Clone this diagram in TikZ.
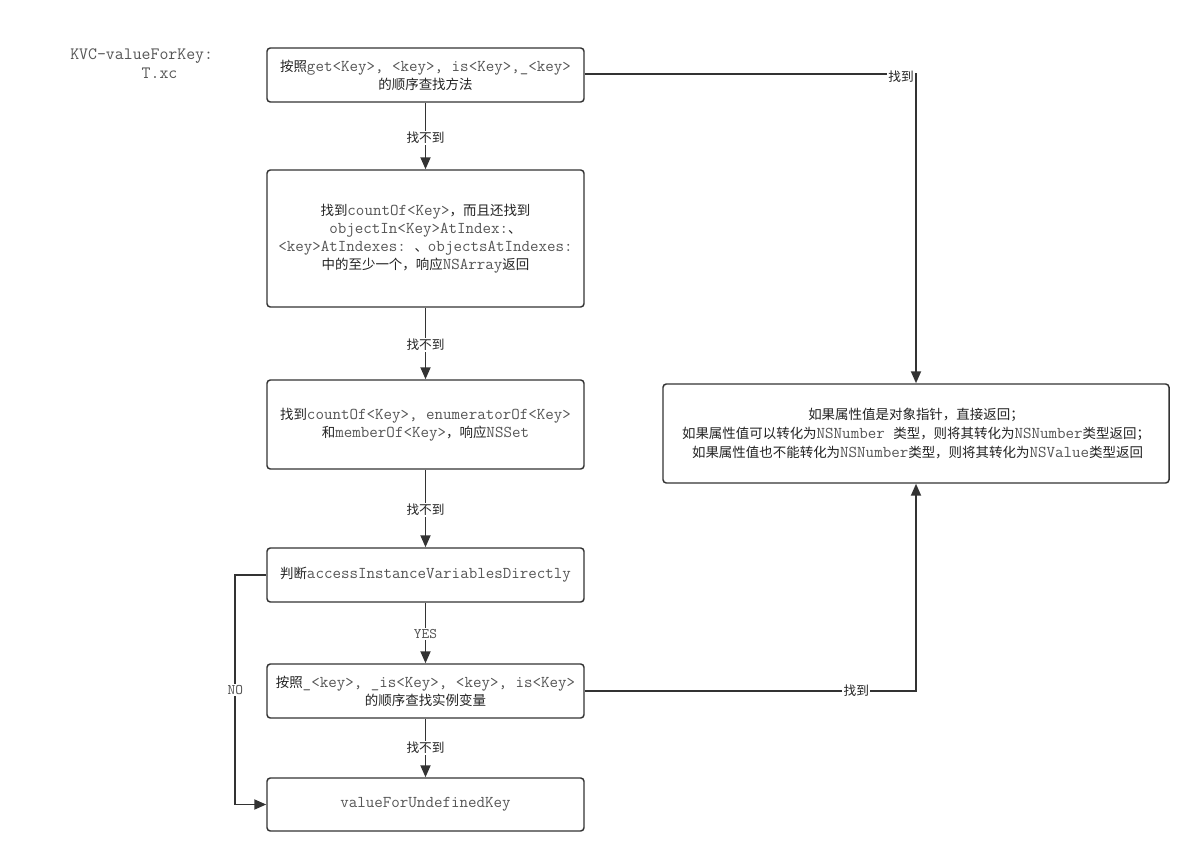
\documentclass[tikz,border=0pt]{standalone}
\usepackage{fontspec}
\usetikzlibrary{arrows.meta}
\setmainfont{Noto Sans CJK SC}
\setmonofont{Latin Modern Mono}
\definecolor{linec}{HTML}{333333}
\definecolor{monoc}{HTML}{555555}
\definecolor{textc}{HTML}{222222}
\newcommand{\mcode}[1]{{\fontsize{12.4pt}{13.5pt}\ttfamily\color{monoc}#1}}
\tikzset{
  box/.style={draw=linec, line width=1.1pt, rounded corners=2.5pt, minimum width=237.75pt, align=center, text=textc, font=\fontsize{10.1pt}{13.5pt}\selectfont, inner sep=0pt},
  conn/.style={draw=linec, line width=1.4pt, -{Triangle[length=9pt,width=7.5pt]}},
  lab/.style={fill=white, text=textc, font=\fontsize{9.5pt}{11pt}\selectfont, inner sep=1pt},
  mlab/.style={fill=white, text=monoc, font=\fontsize{11pt}{11pt}\ttfamily, inner sep=1pt}
}
\begin{document}
\begin{tikzpicture}[x=0.75pt,y=-0.75pt]
\useasboundingbox (0,0) rectangle (1194,856);
\node[align=left, inner sep=0pt, font=\fontsize{13pt}{14.25pt}\ttfamily, text=monoc, anchor=north west] (title) at (70,48) {KVC-valueForKey:\\\phantom{KVC-valu}T.xc};

\node[box, minimum height=40.5pt] (b1) at (425.5,75) {按照\mcode{get<Key>, <key>, is<Key>,\_<key>}\\的顺序查找方法};
\node[box, minimum height=102.75pt] (b2) at (425.5,238.5) {找到\mcode{countOf<Key>}，而且还找到\\\mcode{objectIn<Key>AtIndex:}、\\\mcode{<key>AtIndexes: }、\mcode{objectsAtIndexes:}\\中的至少一个，响应\mcode{NSArray}返回};
\node[box, minimum height=66.75pt] (b3) at (425.5,424.5) {找到\mcode{countOf<Key>, enumeratorOf<Key>}\\和\mcode{memberOf<Key>}，响应\mcode{NSSet}};
\node[box, minimum height=40.5pt] (b4) at (425.5,575) {判断\mcode{accessInstanceVariablesDirectly}};
\node[box, minimum height=40.5pt] (b5) at (425.5,691) {按照\mcode{\_<key>, \_is<Key>, <key>, is<Key>}\\的顺序查找实例变量};
\node[box, minimum height=39.75pt] (b6) at (425.5,804.5) {\mcode{valueForUndefinedKey}};
\node[box, minimum width=379.5pt, minimum height=74.25pt, font=\fontsize{10.1pt}{14.6pt}\selectfont] (r) at (916,433.5) {如果属性值是对象指针，直接返回；\\如果属性值可以转化为\mcode{NSNumber }类型，则将其转化为\mcode{NSNumber}类型返回；\\\ 如果属性值也不能转化为\mcode{NSNumber}类型，则将其转化为\mcode{NSValue}类型返回};

\draw[conn] (b1) -- node[lab, pos=0.53] {找不到} (b2);
\draw[conn] (b2) -- node[lab, pos=0.52] {找不到} (b3);
\draw[conn] (b3) -- node[lab, pos=0.52] {找不到} (b4);
\draw[conn] (b4) -- node[mlab, pos=0.52] {YES} (b5);
\draw[conn] (b5) -- node[lab, pos=0.5] {找不到} (b6);
\draw[conn] (b1.east |- 0,74) -| node[lab, pos=0.5, anchor=east, yshift=-2pt] {找到} (r.north);
\draw[conn] (b5.east) -| node[lab, pos=0.41] {找到} (r.south);
\draw[conn] (b4.west) -- ++(-31,0) |- node[mlab, pos=0.25] {NO} (b6.west);
\end{tikzpicture}
\end{document}
